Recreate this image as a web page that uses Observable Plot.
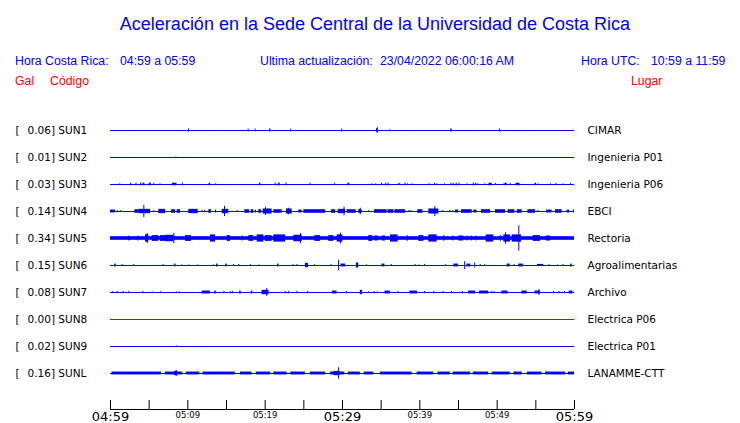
<!DOCTYPE html>
<html>
<head>
<meta charset="utf-8">
<script src="https://cdn.jsdelivr.net/npm/d3@7"></script>
<script src="https://cdn.jsdelivr.net/npm/@observablehq/plot@0.6"></script>
<style>
  body { margin: 0; background: #fff; }
  #wrap { position: relative; width: 740px; height: 423px; overflow: hidden; background: #fff; }
  #head { position: relative; height: 95px; font-family: "Liberation Sans", Arial, sans-serif; }
  #head div { position: absolute; white-space: pre; line-height: 1; }
  #head .title { font-size: 18px; color: #0000ff; top: 15px; left: 0; width: 750px; text-align: center; }
  #head .info { font-size: 12.3px; color: #0000ff; top: 55px; }
  #head .col { font-size: 12.3px; color: #ff0000; top: 75px; }
  #chart svg { display: block; }
</style>
</head>
<body>
<div id="wrap">
  <div id="head"></div>
  <div id="chart"></div>
</div>
<script>
// ---------- text ----------
const titleText = "Aceleración en la Sede Central de la Universidad de Costa Rica";
const infoTexts = ["Hora Costa Rica:", "04:59 a 05:59", "Ultima actualización:", "23/04/2022 06:00:16 AM", "Hora UTC:", "10:59 a 11:59"];
const columnTexts = ["Gal", "Código", "Lugar"];

// ---------- stations ----------
const codes  = ["SUN1", "SUN2", "SUN3", "SUN4", "SUN5", "SUN6", "SUN7", "SUN8", "SUN9", "SUNL"];
const gal    = [0.06, 0.01, 0.03, 0.14, 0.34, 0.15, 0.08, 0.00, 0.02, 0.16];
const places = ["CIMAR", "Ingenieria P01", "Ingenieria P06", "EBCI", "Rectoria", "Agroalimentarias", "Archivo", "Electrica P06", "Electrica P01", "LANAMME-CTT"];
// continuous background noise amplitude (gal)
const noise  = [0, 0, 0, 0, 0.05, 0, 0, 0, 0, 0];

// ---------- time axis (minutes after 04:59) ----------
const tickMinutes = [0, 5, 10, 15, 20, 25, 30, 35, 40, 45, 50, 55, 60];
const majorMinutes = [0, 30, 60];
const majorLabels = ["04:59", "05:29", "05:59"];
const minorMinutes = [10, 20, 40, 50];
const minorLabels = ["05:09", "05:19", "05:39", "05:49"];

// ---------- events per station: [minute, amplitude] spike or [start, end, amplitude] burst ----------
const sun1 = [[10.1,.045],[17.8,.04],[18.7,.04],[20.55,20.75,.04],[23.3,.04],[29.9,.04],[34.4,34.6,.05],[34.5,.08],[36.1,.02],[44.0,44.2,.04],[50.3,.04]];
const sun2 = [[8.45,.02]];
const sun3 = [[1.2,.02],[2.6,2.75,.035],[3.3,.04],[3.9,.04],[4.2,4.45,.035],[5.0,.04],[5.15,5.3,.035],[5.6,5.72,.035],[6.4,.02],[8.0,8.6,.035],[9.3,.04],[12.75,12.95,.035],[13.6,.02],[19.25,19.45,.035],[21.3,.04],[21.7,.04],[21.85,21.95,.035],[22.7,.04],[25.8,.03],[29.0,.03],[30.7,30.95,.035],[33.8,.02],[34.3,.02],[35.05,35.2,.035],[35.6,.04],[35.9,.04],[37.2,.02],[37.4,.03],[38.1,.04],[38.4,.02],[39.0,.02],[41.2,.02],[41.9,.03],[42.2,.02],[43.2,.02],[44.0,.03],[44.3,.04],[44.7,.04],[45.05,45.2,.035],[46.1,.02],[46.9,.04],[47.2,47.35,.035],[47.5,.02],[48.4,.02],[48.95,49.35,.035],[49.8,.03],[50.9,.03],[51.05,51.3,.035],[51.7,.03],[52.45,52.95,.035],[54.9,55.1,.035],[55.3,.02],[56.9,.02],[57.6,.03],[58.5,.02],[59.5,.03]];
const sun4 = [[0.0,0.65,.04],[0.9,.02],[1.3,.02],[3.15,3.66,.05],[3.66,5.17,.06],[4.31,.17],[5.6,.03],[6.25,7.11,.06],[7.89,8.4,.05],[8.62,9.05,.05],[10.13,11.34,.06],[11.85,.03],[12.2,.03],[12.72,13.06,.05],[13.58,.04],[14.44,15.3,.06],[14.74,.14],[16.38,.03],[17.37,17.97,.05],[18.19,18.53,.05],[18.75,.04],[19.18,19.53,.05],[19.74,20.9,.07],[20.04,.11],[21.12,22.2,.05],[22.76,23.49,.07],[23.0,.09],[24.35,24.78,.04],[25.0,27.8,.05],[28.58,29.1,.05],[29.44,30.39,.06],[30.2,.12],[30.6,31.77,.05],[32.1,32.54,.05],[32.3,.09],[33.4,.03],[34.14,35.78,.05],[35.9,36.64,.05],[36.77,38.15,.05],[38.58,.03],[38.84,.03],[39.74,40.39,.05],[41.16,42.46,.07],[41.94,.14],[42.97,.03],[43.88,.03],[44.27,.03],[44.6,45.04,.04],[45.39,46.77,.05],[46.98,47.41,.04],[47.97,49.14,.05],[49.78,51.08,.05],[51.42,52.28,.05],[52.59,53.23,.05],[53.97,54.96,.05],[55.26,.03],[56.38,57.11,.04],[57.54,58.4,.05],[59.05,59.4,.04],[59.83,60,.04]];
const sun5 = [[2.37,.07],[3.53,.07],[4.53,4.96,.10],[4.74,.14],[5.39,6.25,.08],[6.47,7.11,.08],[7.11,8.19,.09],[8.19,.14],[9.7,10.47,.08],[12.93,13.58,.10],[15.09,15.52,.08],[17.03,.07],[17.89,18.53,.08],[18.97,19.83,.10],[20.04,20.9,.08],[21.12,22.63,.10],[23.7,24.78,.09],[24.57,.14],[26.42,27.16,.08],[28.23,28.88,.08],[29.31,30.04,.10],[29.74,.15],[33.4,33.92,.08],[34.18,34.61,.07],[35.13,35.56,.07],[36.21,37.2,.10],[38.36,.08],[39.87,40.52,.08],[41.16,42.24,.10],[43.1,.08],[44.27,.07],[45.04,45.69,.07],[46.12,.07],[46.64,.07],[47.28,.07],[48.58,49.57,.10],[50.43,.08],[50.86,51.72,.10],[51.08,.16],[51.94,53.15,.10],[52.8,.35],[54.66,55.6,.08],[56.34,56.9,.07]];
const sun6 = [[0.55,0.75,.04],[1.5,.03],[3.0,.03],[6.8,.03],[8.26,8.46,.04],[9.2,.02],[10.1,.02],[11.3,.02],[13.3,.02],[13.7,13.9,.04],[14.9,15.1,.04],[15.9,.03],[16.6,.03],[18.1,.03],[19.2,.02],[21.6,21.8,.04],[23.6,.03],[24.1,.03],[25.2,25.6,.06],[26.4,.03],[28.5,.03],[29.5,.15],[29.8,30.4,.04],[31.8,32.1,.07],[33.1,.02],[35.1,35.5,.04],[36.3,.03],[39.4,.03],[39.9,.02],[40.6,.03],[43.3,.03],[44.4,45.0,.04],[45.8,.11],[46.1,46.6,.04],[47.1,.07],[47.8,.03],[48.4,.03],[51.3,51.7,.04],[52.2,.03],[52.8,53.4,.04],[55.2,56.0,.03],[56.7,.03],[57.8,.02],[58.5,.03],[59.5,59.7,.04]];
const sun7 = [[0.3,.03],[0.86,.03],[1.64,.03],[2.37,.03],[4.18,.03],[5.39,.02],[6.47,.02],[8.5,.02],[8.9,.02],[11.85,12.93,.04],[13.48,13.68,.04],[14.66,.03],[15.5,.03],[15.8,.03],[16.7,16.9,.04],[18.2,18.4,.04],[19.6,20.5,.06],[20.2,.11],[22.6,.03],[23.0,.03],[24.1,.03],[25.5,.03],[28.7,29.3,.04],[30.5,.03],[32.3,32.6,.06],[33.4,.02],[34.1,.03],[34.5,.02],[35.5,36.2,.04],[37.2,.03],[38.7,39.7,.04],[40.6,.03],[41.8,.03],[43.0,.03],[44.1,.03],[45.5,.03],[46.3,47.2,.04],[47.7,48.9,.04],[49.3,.03],[49.6,.03],[50.6,51.4,.04],[53.2,53.9,.04],[54.9,55.6,.04],[55.4,.08],[57.3,.03],[58.0,.03],[58.7,.03],[59.3,59.8,.04]];
const sun8 = [];
const sun9 = [[8.5,.02]];
const sunL = [[0.2,6.6,.04],[7.1,9.35,.04],[8.5,.08],[8.3,8.7,.06],[9.8,11.55,.04],[11.95,16.15,.04],[16.8,18.3,.04],[18.85,20.7,.04],[21.1,22.85,.04],[23.3,25.2,.04],[25.85,27.8,.04],[28.45,30.3,.04],[28.9,29.7,.06],[29.5,.16],[30.75,32.3,.04],[32.8,34.05,.04],[34.9,39.0,.04],[39.65,41.8,.04],[42.35,43.95,.04],[44.3,46.55,.04],[46.9,48.9,.04],[49.35,51.7,.04],[52.15,53.25,.04],[53.9,55.8,.04],[56.25,58.85,.04],[59.2,60,.04]];
const traces = [sun1, sun2, sun3, sun4, sun5, sun6, sun7, sun8, sun9, sunL];

// ---------- header ----------
const BLUE = "#0000ff", RED = "#ff0000", DEAD = "#dd0000";
const head = document.getElementById("head");
function addDiv(cls, text, left) {
  const d = document.createElement("div");
  d.className = cls; d.textContent = text;
  if (left !== undefined) d.style.left = left + "px";
  head.appendChild(d);
}
addDiv("title", titleText);
const infoLeft = [15, 120, 260, 380, 581, 651];
infoTexts.forEach((t, i) => addDiv("info", t, infoLeft[i]));
const colLeft = [15, 50, 631];
columnTexts.forEach((t, i) => addDiv("col", t, colLeft[i]));

// ---------- layout ----------
const ROW = 0.75;           // row spacing, in gal
const T0 = 0, T1 = 60;
const rows = codes.map((code, i) => ({
  code, gal: gal[i], place: places[i], noise: noise[i], yc: -i * ROW,
  color: gal[i] === 0 ? DEAD : BLUE
}));
const spikes = [], bursts = [];
traces.forEach((ev, i) => ev.forEach(e => {
  const yc = rows[i].yc;
  if (e.length === 2) spikes.push({t: e[0], y1: yc - e[1], y2: yc + e[1]});
  else bursts.push({t0: e[0], t1: e[1], y1: yc - e[2], y2: yc + e[2]});
}));
const axisY = -(codes.length - 1) * ROW - 1.0;
const H = 328, PXPERGAL = 36;
const yMax = 35 / PXPERGAL, yMin = yMax - H / PXPERGAL;
const LABEL_FONT = "DejaVu Sans, sans-serif";

const chart = Plot.plot({
  width: 740,
  height: H,
  marginLeft: 110,
  marginRight: 166,
  marginTop: 0,
  marginBottom: 0,
  x: {domain: [T0, T1], axis: null},
  y: {domain: [yMin, yMax], axis: null},
  style: {fontFamily: LABEL_FONT, background: "#fff"},
  marks: [
    Plot.ruleY(rows, {y: "yc", x1: T0, x2: T1, stroke: "color", strokeWidth: 1}),
    Plot.rect(rows.filter(d => d.noise > 0), {x1: T0, x2: T1, y1: d => d.yc - d.noise, y2: d => d.yc + d.noise, fill: BLUE}),
    Plot.rect(bursts, {x1: "t0", x2: "t1", y1: "y1", y2: "y2", fill: BLUE}),
    Plot.ruleX(spikes, {x: "t", y1: "y1", y2: "y2", stroke: BLUE, strokeWidth: 1}),
    // left labels
    Plot.text(rows, {y: "yc", text: () => "[", frameAnchor: "left", dx: -95, textAnchor: "start", fontSize: 10.5, fill: "#000"}),
    Plot.text(rows, {y: "yc", text: d => `${d.gal.toFixed(2)}] ${d.code}`, frameAnchor: "left", dx: -83, textAnchor: "start", fontSize: 10.5, fill: "#000"}),
    // right labels
    Plot.text(rows, {y: "yc", text: "place", frameAnchor: "right", dx: 13, textAnchor: "start", fontSize: 10.5, fill: "#000"}),
    // time axis
    Plot.ruleY([axisY], {x1: T0, x2: T1, stroke: "#000"}),
    Plot.ruleX(tickMinutes, {x: d => d, y1: axisY, y2: axisY + 0.25, stroke: "#000"}),
    Plot.text(majorMinutes, {x: d => d, y: axisY, text: (d, i) => majorLabels[i], dy: 7, fontSize: 13, fill: "#000"}),
    Plot.text(minorMinutes, {x: d => d, y: axisY, text: (d, i) => minorLabels[i], dy: 6, fontSize: 8.5, fill: "#000"})
  ]
});
document.getElementById("chart").appendChild(chart);
</script>
</body>
</html>
